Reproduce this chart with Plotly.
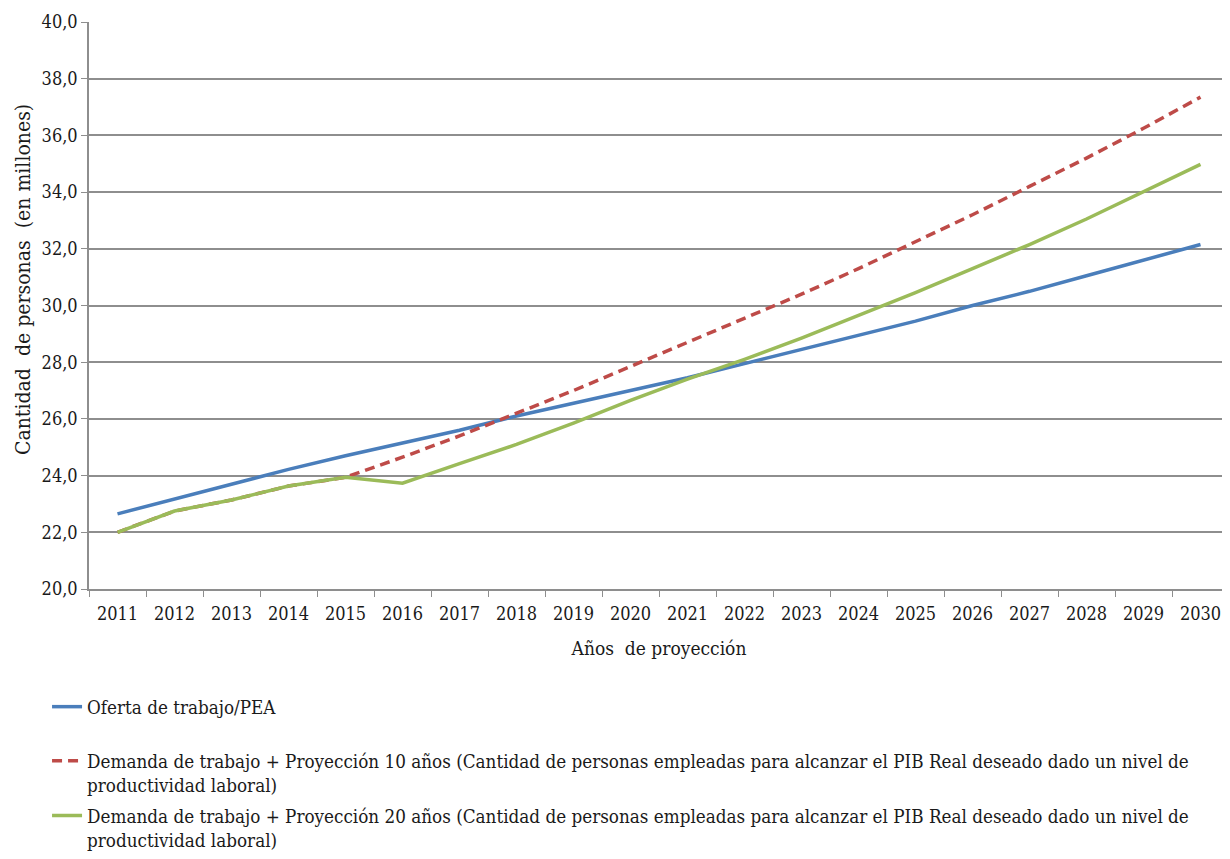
import plotly.graph_objects as go

years = [str(y) for y in range(2011, 2031)]

oferta = [22.65, 23.17, 23.70, 24.22, 24.70, 25.15, 25.60, 26.10, 26.55, 27.00,
          27.45, 27.95, 28.45, 28.95, 29.45, 30.00, 30.50, 31.05, 31.60, 32.15]
demanda10 = [22.00, 22.75, 23.14, 23.63, 23.94, 24.65, 25.40, 26.20, 27.00, 27.85,
             28.70, 29.55, 30.40, 31.30, 32.25, 33.20, 34.20, 35.20, 36.25, 37.35]
demanda20 = [22.00, 22.75, 23.14, 23.63, 23.94, 23.73, 24.42, 25.10, 25.85, 26.65,
             27.40, 28.10, 28.85, 29.65, 30.45, 31.30, 32.15, 33.05, 34.00, 34.98]

names = [
    "Oferta de trabajo/PEA",
    "Demanda de trabajo + Proyección 10 años (Cantidad de personas empleadas para alcanzar el PIB Real deseado dado un nivel de<br>productividad laboral)",
    "Demanda de trabajo + Proyección 20 años (Cantidad de personas empleadas para alcanzar el PIB Real deseado dado un nivel de<br>productividad laboral)",
]
y_title = "Cantidad  de personas  (en millones)"
x_title = "Años  de proyección"

FONT = "DejaVu Serif Condensed, DejaVu Serif"
GRID = "#8e8e8e"
TXT = "#1a1a1a"

fig = go.Figure()
fig.add_trace(go.Scatter(x=years, y=oferta, mode="lines", name=names[0],
                         line=dict(color="#4A7EBB", width=3.5), legend="legend"))
fig.add_trace(go.Scatter(x=years, y=demanda10, mode="lines", name=names[1],
                         line=dict(color="#BE4B48", width=3.5, dash="10px,6px"), legend="legend2"))
fig.add_trace(go.Scatter(x=years, y=demanda20, mode="lines", name=names[2],
                         line=dict(color="#9BBB59", width=3.5), legend="legend3"))

def leg(ytop):
    return dict(orientation="v", x=-0.0368, xanchor="left", y=ytop, yanchor="top",
                font=dict(family=FONT, size=18.7, color=TXT), valign="top",
                bgcolor="rgba(0,0,0,0)")

fig.add_annotation(text=y_title, textangle=-90, xref="paper", yref="paper",
                   x=-0.0579, y=0.5467, xanchor="center", yanchor="middle",
                   showarrow=False, font=dict(family=FONT, size=21, color=TXT))

fig.update_layout(
    width=1222, height=851,
    margin=dict(l=81, r=1, t=14, b=270, autoexpand=False),
    plot_bgcolor="white", paper_bgcolor="white",
    font=dict(family=FONT, size=19, color=TXT),
    separators=", ",
    showlegend=True,
    legend=leg(-0.1746),
    legend2=leg(-0.27),
    legend3=leg(-0.3666),
    xaxis=dict(type="category", range=[-0.5, 19.5], tickson="boundaries",
               ticks="outside", ticklen=6, tickcolor=GRID, showline=True,
               linecolor=GRID, linewidth=1.5, showgrid=False, automargin=False,
               ticklabelstandoff=8,
               title=dict(text=x_title, font=dict(family=FONT, size=19), standoff=18),
               tickfont=dict(family=FONT, size=18)),
    yaxis=dict(range=[20, 40], dtick=2, tickformat=".1f", ticks="outside",
               ticklen=6, tickcolor=GRID, showline=True, linecolor=GRID, linewidth=1.5,
               gridcolor=GRID, gridwidth=1.5, zeroline=False, automargin=False,
               tickfont=dict(family=FONT, size=18)),
)

fig.write_html("out.html")
